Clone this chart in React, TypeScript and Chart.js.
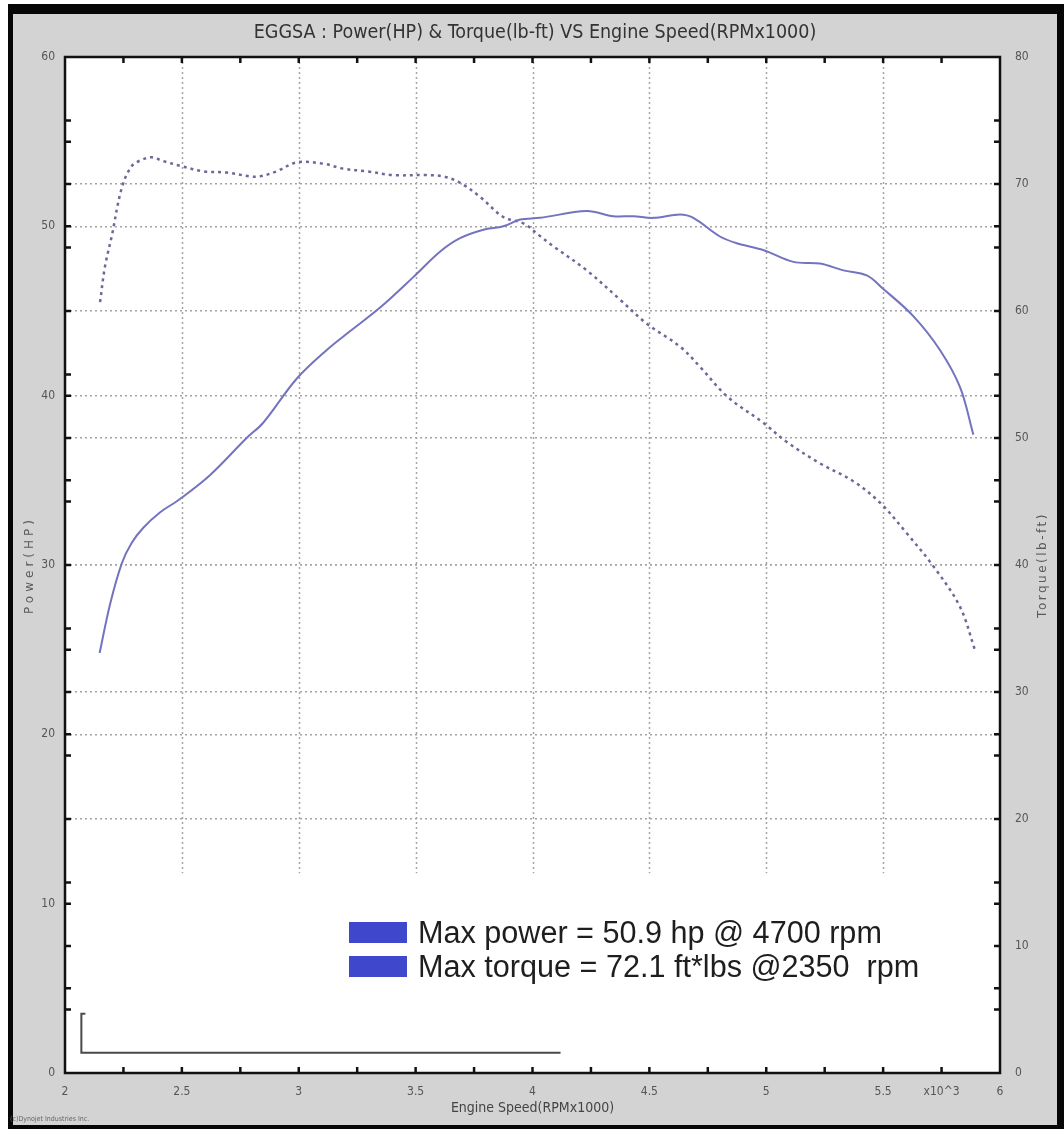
import React, { useEffect, useRef } from 'react';
import { Chart, registerables } from 'chart.js';

Chart.register(...registerables);

// ---- data ----
const powerRpm = [2.148, 2.193, 2.243, 2.285, 2.335, 2.406, 2.492, 2.62, 2.777, 2.848, 2.991, 3.12, 3.219, 3.348, 3.49, 3.604, 3.69, 3.79, 3.875, 3.947, 4.032, 4.232, 4.346, 4.431, 4.517, 4.631, 4.688, 4.802, 4.874, 4.987, 5.116, 5.23, 5.33, 5.43, 5.501, 5.629, 5.743, 5.829, 5.886];
const powerHp = [24.8, 27.7, 30.1, 31.3, 32.2, 33.1, 33.9, 35.3, 37.5, 38.4, 41.0, 42.7, 43.8, 45.2, 47.0, 48.5, 49.3, 49.8, 50.0, 50.4, 50.5, 50.9, 50.6, 50.6, 50.5, 50.7, 50.5, 49.4, 49.0, 48.6, 47.9, 47.8, 47.4, 47.1, 46.3, 44.7, 42.7, 40.5, 37.7];

const torqueRpm = [2.15, 2.171, 2.2, 2.243, 2.285, 2.328, 2.371, 2.421, 2.499, 2.592, 2.692, 2.791, 2.834, 2.906, 2.991, 3.105, 3.191, 3.291, 3.404, 3.547, 3.618, 3.69, 3.775, 3.875, 3.961, 4.032, 4.089, 4.232, 4.374, 4.489, 4.631, 4.717, 4.831, 4.987, 5.087, 5.23, 5.372, 5.487, 5.601, 5.715, 5.829, 5.893];
const torqueLbft = [60.7, 63.5, 65.9, 69.7, 71.4, 71.9, 72.1, 71.8, 71.4, 71.0, 70.9, 70.6, 70.6, 71.0, 71.7, 71.6, 71.2, 71.0, 70.7, 70.7, 70.6, 70.1, 69.0, 67.4, 66.9, 65.9, 65.1, 63.2, 60.9, 59.0, 57.2, 55.6, 53.3, 51.2, 49.7, 48.0, 46.6, 44.9, 42.5, 39.9, 36.7, 33.3];

const rpmRange = [2, 6];
const powerRange = [0, 60];
const torqueRange = [0, 80];
const rpmExponentTick = 5.75;
const rpmExponentLabel = 'x10^3';

const titleText = 'EGGSA : Power(HP) & Torque(lb-ft) VS Engine Speed(RPMx1000)';
const xTitle = 'Engine Speed(RPMx1000)';
const leftTitle = 'Power(HP)';
const rightTitle = 'Torque(lb-ft)';
const copyrightText = '(c)Dynojet Industries Inc.';
const legendLines = ['Max power = 50.9 hp @ 4700 rpm', 'Max torque = 72.1 ft*lbs @2350  rpm'];

// decorative bracket (in data units) and where vertical grid stops
const bracketRpm = [2.07, 4.12];
const bracketPower = [1.2, 3.5];
const verticalGridStop = 11.8;

const COND = "'DejaVu Sans Condensed', 'Liberation Sans Narrow', 'DejaVu Sans', sans-serif";

const decorPlugin = {
  id: 'decor',
  beforeDraw(chart: any) {
    const { ctx, width, height, chartArea: a } = chart;
    ctx.save();
    ctx.fillStyle = '#ffffff';
    ctx.fillRect(0, 0, width, height);
    ctx.fillStyle = '#060606';
    ctx.fillRect(8, 4, width - 8, height - 4);
    ctx.fillStyle = '#d3d3d3';
    ctx.fillRect(13, 14, width - 20, height - 18);
    ctx.fillStyle = '#ffffff';
    ctx.fillRect(a.left, a.top, a.right - a.left, a.bottom - a.top);
    ctx.restore();
  },
  beforeDatasetsDraw(chart: any) {
    const { ctx, chartArea: a, scales } = chart;
    const x = scales.x;
    const y = scales.y;
    const yEnd = y.getPixelForValue(verticalGridStop);
    ctx.save();
    ctx.strokeStyle = '#a4a4a4';
    ctx.lineWidth = 1.5;
    ctx.setLineDash([2, 3]);
    for (const t of x.ticks) {
      if (t.value <= x.min + 1e-9 || t.value >= x.max - 1e-9) continue;
      if (Math.abs(t.value * 2 - Math.round(t.value * 2)) > 1e-9) continue;
      const px = Math.round(x.getPixelForValue(t.value)) + 0.5;
      ctx.beginPath();
      ctx.moveTo(px, a.top);
      ctx.lineTo(px, yEnd);
      ctx.stroke();
    }
    ctx.restore();
  },
  afterDatasetsDraw(chart: any) {
    const { ctx, chartArea: a, scales } = chart;
    const { x, y, y1 } = scales;
    ctx.save();
    ctx.strokeStyle = '#111';
    ctx.lineWidth = 2.5;
    ctx.setLineDash([]);
    const len = 6;
    const yPix: number[] = [];
    for (const t of y.ticks) yPix.push(y.getPixelForValue(t.value));
    for (const t of y1.ticks) yPix.push(y1.getPixelForValue(t.value));
    ctx.beginPath();
    for (const p of yPix) {
      if (p <= a.top + 1 || p >= a.bottom - 1) continue;
      ctx.moveTo(a.left, p);
      ctx.lineTo(a.left + len, p);
      ctx.moveTo(a.right, p);
      ctx.lineTo(a.right - len, p);
    }
    for (const t of x.ticks) {
      const p = x.getPixelForValue(t.value);
      if (p <= a.left + 1 || p >= a.right - 1) continue;
      ctx.moveTo(p, a.top);
      ctx.lineTo(p, a.top + len);
      ctx.moveTo(p, a.bottom);
      ctx.lineTo(p, a.bottom - len);
    }
    ctx.stroke();
    ctx.strokeRect(a.left, a.top, a.right - a.left, a.bottom - a.top);

    // bracket
    const bx0 = x.getPixelForValue(bracketRpm[0]);
    const bx1 = x.getPixelForValue(bracketRpm[1]);
    const by0 = y.getPixelForValue(bracketPower[0]);
    const by1 = y.getPixelForValue(bracketPower[1]);
    ctx.strokeStyle = '#4a4a4a';
    ctx.lineWidth = 2;
    ctx.beginPath();
    ctx.moveTo(bx0 + 4, by1);
    ctx.lineTo(bx0, by1);
    ctx.lineTo(bx0, by0);
    ctx.lineTo(bx1, by0);
    ctx.stroke();
    ctx.restore();
  },
  afterDraw(chart: any) {
    const { ctx, chartArea: a } = chart;
    const cy = (a.top + a.bottom) / 2;
    ctx.save();
    // axis titles (rotated, reading upward)
    ctx.fillStyle = '#5a5a5a';
    ctx.font = "12px 'DejaVu Sans', sans-serif";
    ctx.textAlign = 'center';
    ctx.textBaseline = 'middle';
    (ctx as any).letterSpacing = '4px';
    ctx.save();
    ctx.translate(30, cy);
    ctx.rotate(-Math.PI / 2);
    ctx.fillText(leftTitle, 0, 0);
    ctx.restore();
    (ctx as any).letterSpacing = '2.5px';
    ctx.save();
    ctx.translate(1043, cy);
    ctx.rotate(-Math.PI / 2);
    ctx.fillText(rightTitle, 0, 0);
    ctx.restore();
    (ctx as any).letterSpacing = '0px';

    // copyright
    ctx.fillStyle = '#666';
    ctx.font = "7px 'DejaVu Sans Condensed', 'DejaVu Sans', sans-serif";
    ctx.textAlign = 'left';
    ctx.fillText(copyrightText, 10, 1119);

    // legend annotation
    const baselines = [943, 977];
    ctx.font = "30.6px 'Liberation Sans', Arial, sans-serif";
    ctx.textBaseline = 'alphabetic';
    legendLines.forEach((txt, i) => {
      const b = baselines[i];
      ctx.fillStyle = '#3f48cc';
      ctx.fillRect(349, b - 21, 58, 21);
      ctx.fillStyle = '#1e1e1e';
      ctx.fillText(txt, 418, b);
    });
    ctx.restore();
  },
};

export default function App() {
  const ref = useRef<HTMLCanvasElement>(null);
  useEffect(() => {
    const canvas = ref.current;
    if (!canvas) return;
    const tickFont = { family: COND, size: 12 };
    const chart = new Chart(canvas, {
      type: 'line',
      data: {
        datasets: [
          {
            label: 'Power(HP)',
            data: powerRpm.map((r, i) => ({ x: r, y: powerHp[i] })),
            yAxisID: 'y',
            borderColor: '#7373c0',
            borderWidth: 2,
            pointRadius: 0,
            tension: 0.35,
            fill: false,
          },
          {
            label: 'Torque(lb-ft)',
            data: torqueRpm.map((r, i) => ({ x: r, y: torqueLbft[i] })),
            yAxisID: 'y1',
            borderColor: '#6a6a98',
            borderWidth: 2.5,
            borderDash: [3, 4],
            pointRadius: 0,
            tension: 0.35,
            fill: false,
          },
        ],
      },
      options: {
        responsive: false,
        animation: false,
        devicePixelRatio: 1,
        layout: { padding: { left: 13, right: 7, top: 14, bottom: 4 } },
        plugins: {
          legend: { display: false },
          tooltip: { enabled: false },
          title: {
            display: true,
            text: titleText,
            color: '#333',
            font: { family: COND, size: 19.5, weight: 'normal', lineHeight: 1.2 },
            padding: { top: 7.3, bottom: 12.3 },
          },
        },
        scales: {
          x: {
            type: 'linear',
            min: rpmRange[0],
            max: rpmRange[1],
            afterFit: (s: any) => { s.height = 52; },
            grid: { display: false, drawTicks: false },
            border: { display: false },
            ticks: {
              stepSize: 0.25,
              autoSkip: false,
              maxRotation: 0,
              padding: 12,
              color: '#555',
              font: tickFont,
              callback: (v: any) => {
                const n = Number(v);
                if (Math.abs(n - rpmExponentTick) < 1e-9) return rpmExponentLabel;
                return Math.abs(n * 2 - Math.round(n * 2)) < 1e-9 ? String(n) : '';
              },
            },
            title: {
              display: true,
              text: xTitle,
              color: '#444',
              font: { family: COND, size: 14 },
              padding: { top: 0, bottom: 8.5 },
            },
          },
          y: {
            type: 'linear',
            position: 'left',
            min: powerRange[0],
            max: powerRange[1],
            afterFit: (s: any) => { s.width = 52; },
            grid: {
              drawTicks: false,
              lineWidth: 1.5,
              color: (c: any) => {
                const v = c.tick ? c.tick.value : -1;
                return v % 10 === 0 && v >= 20 && v < powerRange[1] ? '#a4a4a4' : 'rgba(0,0,0,0)';
              },
            },
            border: { display: false, dash: [2, 3] },
            ticks: {
              stepSize: 5,
              autoSkip: false,
              padding: 10,
              color: '#555',
              font: tickFont,
              callback: (v: any) => (Number(v) % 10 === 0 ? String(v) : ''),
            },
          },
          y1: {
            type: 'linear',
            position: 'right',
            min: torqueRange[0],
            max: torqueRange[1],
            afterFit: (s: any) => { s.width = 57; },
            grid: {
              drawTicks: false,
              drawOnChartArea: true,
              lineWidth: 1.5,
              color: (c: any) => {
                const v = c.tick ? c.tick.value : -1;
                return v % 10 === 0 && v >= 20 && v < torqueRange[1] ? '#a4a4a4' : 'rgba(0,0,0,0)';
              },
            },
            border: { display: false, dash: [2, 3] },
            ticks: {
              stepSize: 5,
              autoSkip: false,
              padding: 15,
              color: '#555',
              font: tickFont,
              callback: (v: any) => (Number(v) % 10 === 0 ? String(v) : ''),
            },
          },
        },
      } as any,
      plugins: [decorPlugin],
    });
    return () => chart.destroy();
  }, []);

  return (
    <div style={{ position: 'absolute', left: 0, top: 0, width: 1064, height: 1129 }}>
      <canvas ref={ref} width={1064} height={1129} style={{ display: 'block' }} />
    </div>
  );
}
